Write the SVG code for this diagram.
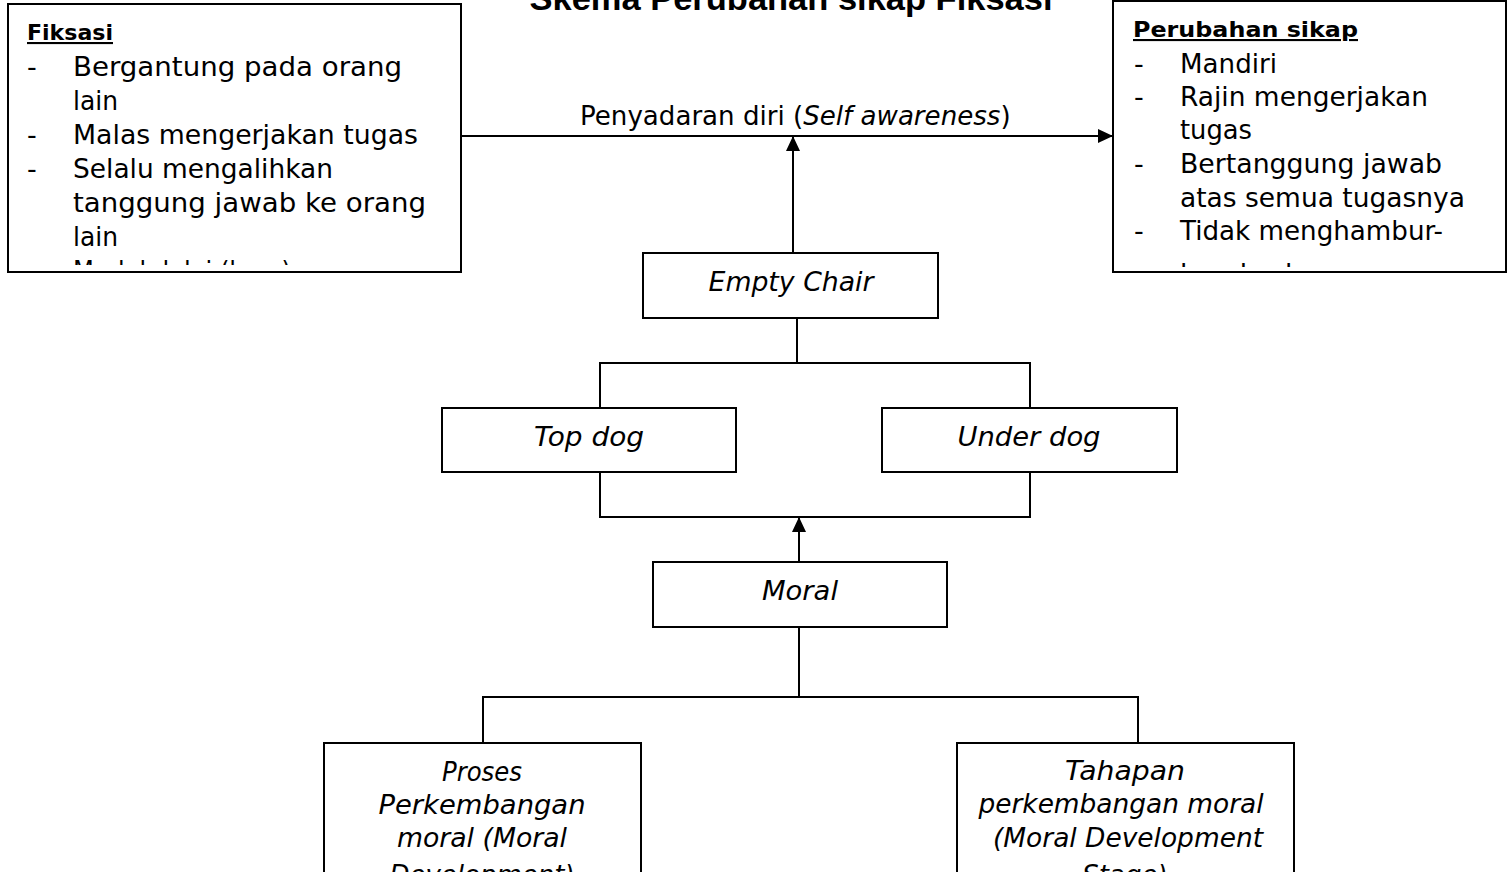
<svg xmlns="http://www.w3.org/2000/svg" width="1507" height="872" viewBox="0 0 1507 872">
<style>
  .box{fill:#fff;stroke:#000;stroke-width:2}
  .ln{fill:none;stroke:#000;stroke-width:2}
  .body{font-family:"DejaVu Sans","Liberation Sans",sans-serif;font-size:27px;fill:#000}
  .conlab{font-family:"DejaVu Sans","Liberation Sans",sans-serif;font-size:26.1px;fill:#000}
  .head{font-family:"DejaVu Sans","Liberation Sans",sans-serif;font-size:21px;font-weight:bold;fill:#000;text-decoration:underline}
  .lab{font-family:"DejaVu Sans","Liberation Sans",sans-serif;font-size:26px;font-style:italic;fill:#000;text-anchor:middle}
  .title{font-family:"Liberation Sans",Arial,sans-serif;font-size:34px;font-weight:bold;fill:#000;text-anchor:middle}
</style>
<defs>
  <marker id="arr" markerUnits="userSpaceOnUse" markerWidth="15" markerHeight="14" refX="15" refY="7" orient="auto">
    <path d="M0,0 L15,7 L0,14 z" fill="#000"/>
  </marker>
  <clipPath id="clipL"><rect x="9" y="5" width="451" height="260"/></clipPath>
  <clipPath id="clipR"><rect x="1114" y="2" width="392" height="265"/></clipPath>
</defs>
<rect width="1507" height="872" fill="#fff"/>

<text class="title" x="791" y="10" textLength="523" lengthAdjust="spacingAndGlyphs">Skema Perubahan sikap Fiksasi</text>

<g id="connectors">
  <line class="ln" x1="461" y1="136" x2="1113" y2="136" marker-end="url(#arr)"/>
  <line class="ln" x1="793" y1="253" x2="793" y2="136" marker-end="url(#arr)"/>
  <polyline class="ln" points="797,318 797,363"/>
  <polyline class="ln" points="600,408 600,363 1030,363 1030,408"/>
  <polyline class="ln" points="600,472 600,517 1030,517 1030,472"/>
  <line class="ln" x1="799" y1="562" x2="799" y2="517" marker-end="url(#arr)"/>
  <polyline class="ln" points="799,627 799,697"/>
  <polyline class="ln" points="483,743 483,697 1138,697 1138,743"/>
  <text class="conlab" x="580" y="125">Penyadaran diri (<tspan font-style="italic">Self awareness</tspan>)</text>
</g>

<g id="fiksasi">
  <rect class="box" x="8" y="4" width="453" height="268"/>
  <g clip-path="url(#clipL)">
    <text class="head" x="27" y="40" textLength="86" lengthAdjust="spacingAndGlyphs">Fiksasi</text>
    <text class="body" x="27" y="76">-</text>
    <text class="body" x="73" y="76" textLength="329" lengthAdjust="spacingAndGlyphs">Bergantung pada orang</text>
    <text class="body" x="73" y="110" textLength="45" lengthAdjust="spacingAndGlyphs">lain</text>
    <text class="body" x="27" y="144">-</text>
    <text class="body" x="73" y="144" textLength="345" lengthAdjust="spacingAndGlyphs">Malas mengerjakan tugas</text>
    <text class="body" x="27" y="178">-</text>
    <text class="body" x="73" y="178" textLength="260" lengthAdjust="spacingAndGlyphs">Selalu mengalihkan</text>
    <text class="body" x="73" y="212" textLength="353" lengthAdjust="spacingAndGlyphs">tanggung jawab ke orang</text>
    <text class="body" x="73" y="246" textLength="45" lengthAdjust="spacingAndGlyphs">lain</text>
    <text class="body" x="27" y="280">-</text>
    <text class="body" x="73" y="280" textLength="218" lengthAdjust="spacingAndGlyphs">Mudah lalai (lupa)</text>
  </g>
</g>

<g id="perubahan">
  <rect class="box" x="1113" y="1" width="393" height="271"/>
  <g clip-path="url(#clipR)">
    <text class="head" x="1133" y="37" textLength="225" lengthAdjust="spacingAndGlyphs">Perubahan sikap</text>
    <text class="body" x="1134" y="73">-</text>
    <text class="body" x="1180" y="73" textLength="97" lengthAdjust="spacingAndGlyphs">Mandiri</text>
    <text class="body" x="1134" y="106">-</text>
    <text class="body" x="1180" y="106" textLength="248" lengthAdjust="spacingAndGlyphs">Rajin mengerjakan</text>
    <text class="body" x="1180" y="139" textLength="72" lengthAdjust="spacingAndGlyphs">tugas</text>
    <text class="body" x="1134" y="173">-</text>
    <text class="body" x="1180" y="173" textLength="262" lengthAdjust="spacingAndGlyphs">Bertanggung jawab</text>
    <text class="body" x="1180" y="207" textLength="285" lengthAdjust="spacingAndGlyphs">atas semua tugasnya</text>
    <text class="body" x="1134" y="240">-</text>
    <text class="body" x="1180" y="240" textLength="263" lengthAdjust="spacingAndGlyphs">Tidak menghambur-</text>
    <text class="body" x="1180" y="283" textLength="230" lengthAdjust="spacingAndGlyphs">hamburkan uang</text>
  </g>
</g>

<g id="empty-chair">
  <rect class="box" x="643" y="253" width="295" height="65"/>
  <text class="lab" x="791" y="291" textLength="165" lengthAdjust="spacingAndGlyphs">Empty Chair</text>
</g>

<g id="top-dog">
  <rect class="box" x="442" y="408" width="294" height="64"/>
  <text class="lab" x="589" y="446" textLength="110" lengthAdjust="spacingAndGlyphs">Top dog</text>
</g>

<g id="under-dog">
  <rect class="box" x="882" y="408" width="295" height="64"/>
  <text class="lab" x="1029" y="446" textLength="143" lengthAdjust="spacingAndGlyphs">Under dog</text>
</g>

<g id="moral">
  <rect class="box" x="653" y="562" width="294" height="65"/>
  <text class="lab" x="800" y="600" textLength="76" lengthAdjust="spacingAndGlyphs">Moral</text>
</g>

<g id="proses">
  <rect class="box" x="324" y="743" width="317" height="150"/>
  <text class="lab" x="482" y="781" textLength="80" lengthAdjust="spacingAndGlyphs">Proses</text>
  <text class="lab" x="482" y="814" textLength="207" lengthAdjust="spacingAndGlyphs">Perkembangan</text>
  <text class="lab" x="482" y="847" textLength="170" lengthAdjust="spacingAndGlyphs">moral (Moral</text>
  <text class="lab" x="482" y="884">Development)</text>
</g>

<g id="tahapan">
  <rect class="box" x="957" y="743" width="337" height="150"/>
  <text class="lab" x="1125" y="780" textLength="120" lengthAdjust="spacingAndGlyphs">Tahapan</text>
  <text class="lab" x="1121" y="813" textLength="285" lengthAdjust="spacingAndGlyphs">perkembangan moral</text>
  <text class="lab" x="1128" y="847" textLength="270" lengthAdjust="spacingAndGlyphs">(Moral Development</text>
  <text class="lab" x="1125" y="884">Stage)</text>
</g>
</svg>
